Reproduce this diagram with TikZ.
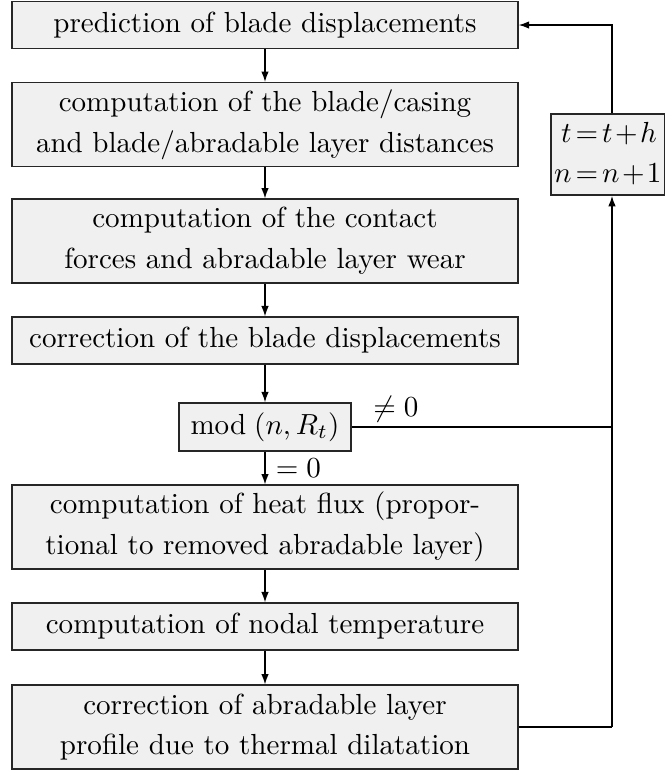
\documentclass[tikz,border=0pt]{standalone}
\usetikzlibrary{arrows.meta}
\begin{document}
\begin{tikzpicture}[x=0.3443pt,y=-0.3443pt,
  stepbox/.style={draw=black!85, line width=0.5pt, fill=gray!12, inner sep=0pt,
    minimum width=174.2pt, align=center, font=\fontsize{10}{14}\selectfont},
  one/.style={minimum height=16.1pt},
  two/.style={minimum height=28.8pt},
  conn/.style={line width=0.45pt, -{Latex[length=3.6pt,width=2.6pt]}},
  plainline/.style={line width=0.45pt},
  lab/.style={font=\fontsize{10}{14}\selectfont, inner sep=1.5pt}]
\useasboundingbox (0,0) rectangle (665,772);
\node[stepbox,one] (b1) at (265,25) {prediction of blade displacements};
\node[stepbox,two] (b2) at (265,124.5) {computation of the blade/casing\\and blade/abradable layer distances};
\node[stepbox,two] (b3) at (265,241) {computation of the contact\\forces and abradable layer wear};
\node[stepbox,one] (b4) at (265,340.5) {correction of the blade displacements};
\node[stepbox,minimum width=59.2pt,minimum height=16.5pt] (mod) at (265,427) {$\mathrm{mod}\;(n,R_t)$};
\node[stepbox,two] (b5) at (265,527) {computation of heat flux (propor-\\tional to removed abradable layer)};
\node[stepbox,one] (b6) at (265,626.5) {computation of nodal temperature};
\node[stepbox,two] (b7) at (265,727) {correction of abradable layer\\profile due to thermal dilatation};
\node[stepbox,minimum width=39pt,minimum height=26.5pt] (tb) at (607.8,154.5)
  {\medmuskip=1.5mu\thickmuskip=2.5mu\begin{tabular}{@{}r@{${}={}$}l@{}}$t$&$t+h$\\$n$&$n+1$\end{tabular}};
\coordinate (c7) at (612,727);
\coordinate (jn) at (612,427);
\draw[conn] (b1) -- (b2);
\draw[conn] (b2) -- (b3);
\draw[conn] (b3) -- (b4);
\draw[conn] (b4) -- (mod);
\draw[conn] (mod) -- node[lab,right,xshift=2pt] {$=0$} (b5);
\draw[conn] (b5) -- (b6);
\draw[conn] (b6) -- (b7);
\draw[plainline] (mod.east) -- node[lab,above,pos=0.17] {$\neq 0$} (jn);
\draw[plainline] (b7.east) -- (c7);
\draw[conn] (c7) -- (c7 |- tb.south);
\draw[conn] (c7 |- tb.north) -- (c7 |- b1.east) -- (b1.east);
\end{tikzpicture}
\end{document}
